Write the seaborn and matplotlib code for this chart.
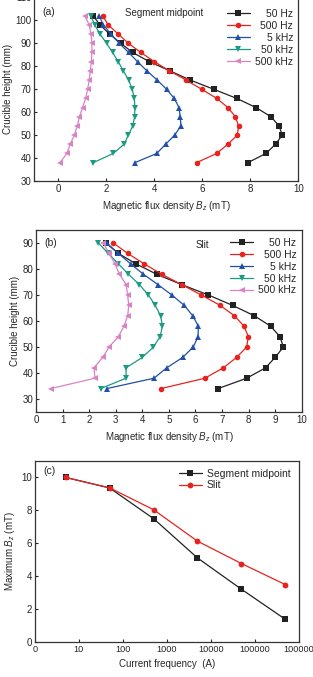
import numpy as np
import pandas as pd
import seaborn as sns
import matplotlib
matplotlib.use("Agg")
import matplotlib.pyplot as plt

# crucible heights (mm) sampled along the wall
heights_a = [38, 42, 46, 50, 54, 58, 62, 66, 70, 74, 78, 82, 86, 90, 94, 98, 102]
heights_b = [34, 38, 42, 46, 50, 54, 58, 62, 66, 70, 74, 78, 82, 86, 90]
freq_labels = ["50 Hz", "500 Hz", "5 kHz", "50 kHz", "500 kHz"]

# (a) segment midpoint, Bz in mT
a_50Hz = [7.9, 8.65, 9.05, 9.33, 9.2, 8.86, 8.24, 7.43, 6.47, 5.49, 4.65, 3.79, 3.1, 2.6, 2.14, 1.74, 1.45]
a_500Hz = [5.76, 6.6, 7.06, 7.46, 7.51, 7.38, 7.07, 6.6, 5.97, 5.32, 4.63, 4.0, 3.44, 2.92, 2.5, 2.08, 1.85]
a_5kHz = [3.19, 4.1, 4.47, 4.85, 5.11, 5.08, 5.03, 4.83, 4.51, 4.12, 3.69, 3.3, 2.93, 2.54, 2.2, 1.88, 1.7]
a_50kHz = [1.46, 2.29, 2.74, 2.92, 3.1, 3.18, 3.19, 3.17, 3.08, 2.93, 2.71, 2.5, 2.26, 2.01, 1.74, 1.52, 1.35]
a_500kHz = [0.07, 0.36, 0.49, 0.67, 0.79, 0.88, 1.01, 1.14, 1.22, 1.29, 1.33, 1.38, 1.4, 1.4, 1.36, 1.29, 1.1]

# (b) slit, Bz in mT
b_50Hz = [6.85, 7.93, 8.64, 9.0, 9.31, 9.18, 8.83, 8.22, 7.4, 6.49, 5.48, 4.54, 3.76, 3.1, 2.63]
b_500Hz = [4.7, 6.36, 7.05, 7.55, 7.93, 7.99, 7.83, 7.47, 6.93, 6.22, 5.48, 4.73, 4.07, 3.45, 2.91]
b_5kHz = [2.66, 4.44, 4.92, 5.52, 5.92, 6.1, 6.11, 5.9, 5.58, 5.11, 4.59, 4.04, 3.56, 3.1, 2.66]
b_50kHz = [2.43, 3.39, 3.39, 4.0, 4.42, 4.67, 4.76, 4.69, 4.49, 4.23, 3.89, 3.48, 3.1, 2.72, 2.35]
b_500kHz = [0.55, 2.22, 2.18, 2.51, 2.75, 3.1, 3.31, 3.45, 3.49, 3.45, 3.39, 3.14, 2.97, 2.75, 2.53]

# (c) maximum Bz vs current frequency
freqs = [5, 50, 500, 5000, 50000, 500000]
c_midpoint = [10.0, 9.36, 7.5, 5.11, 3.21, 1.38]
c_slit = [10.0, 9.37, 8.04, 6.13, 4.77, 3.49]
c_xticklabels = ["0", "10", "100", "1000", "10000", "100000", "100000"]

colors = {"50 Hz": "#222222", "500 Hz": "#e8231f", "5 kHz": "#2150a8",
          "50 kHz": "#1b9a82", "500 kHz": "#d883c4"}
markers = {"50 Hz": "s", "500 Hz": "o", "5 kHz": "^", "50 kHz": "v", "500 kHz": "<"}

sns.set_style("ticks")
plt.rcParams["font.family"] = ["Liberation Sans", "DejaVu Sans"]
plt.rcParams["mathtext.fontset"] = "custom"
plt.rcParams["mathtext.rm"] = "Liberation Sans"
plt.rcParams["mathtext.it"] = "Liberation Sans:italic"
plt.rcParams["font.size"] = 7
plt.rcParams["axes.edgecolor"] = "#333333"
plt.rcParams["axes.linewidth"] = 0.9
plt.rcParams["xtick.direction"] = "in"
plt.rcParams["ytick.direction"] = "in"
plt.rcParams["xtick.major.size"] = 2.5
plt.rcParams["ytick.major.size"] = 2.5
plt.rcParams["xtick.labelsize"] = 7
plt.rcParams["ytick.labelsize"] = 7
plt.rcParams["xtick.major.pad"] = 2.5
plt.rcParams["ytick.major.pad"] = 2


def long_df(heights, series):
    rows = []
    for lab, vals in zip(freq_labels, series):
        for h, v in zip(heights, vals):
            rows.append({"height": h, "Bz": v, "freq": lab})
    return pd.DataFrame(rows)


df_a = long_df(heights_a, [a_50Hz, a_500Hz, a_5kHz, a_50kHz, a_500kHz])
df_b = long_df(heights_b, [b_50Hz, b_500Hz, b_5kHz, b_50kHz, b_500kHz])
df_c = pd.DataFrame({
    "freq": freqs * 2,
    "Bmax": c_midpoint + c_slit,
    "pos": ["Segment midpoint"] * len(freqs) + ["Slit"] * len(freqs),
})

W, H = 313, 677
fig = plt.figure(figsize=(W / 100, H / 100), dpi=100)
ax_a = fig.add_axes([34.3 / W, (H - 181) / H, 264 / W, 183.6 / H])
ax_b = fig.add_axes([36 / W, (H - 412) / H, 265.7 / W, 182 / H])
ax_c = fig.add_axes([35 / W, (H - 642) / H, 263.5 / W, 181 / H])

for ax, df in [(ax_a, df_a), (ax_b, df_b)]:
    sns.lineplot(data=df, x="Bz", y="height", hue="freq", style="freq",
                 palette=colors, markers=markers, dashes=False, sort=False,
                 estimator=None, ax=ax, linewidth=0.9, markersize=4,
                 markeredgewidth=0)
    ax.set_ylabel("Crucible height (mm)", labelpad=2)
    ax.set_xlabel("Magnetic flux density $B_z$ (mT)", labelpad=3)

ax_a.set_xlim(-1, 10)
ax_a.set_ylim(30, 110)
ax_a.set_xticks([0, 2, 4, 6, 8, 10])
ax_a.set_yticks(np.arange(30, 111, 10))
ax_a.text(0.343, 0.915, "Segment midpoint", transform=ax_a.transAxes,
          fontsize=7, va="center")
ax_a.text(0.03, 0.92, "(a)", transform=ax_a.transAxes, fontsize=7.5, va="center")

ax_b.set_xlim(0, 10)
ax_b.set_ylim(25, 95)
ax_b.set_xticks(range(0, 11))
ax_b.set_yticks(np.arange(30, 91, 10))
ax_b.text(0.6, 0.915, "Slit", transform=ax_b.transAxes, fontsize=7, va="center")
ax_b.text(0.03, 0.93, "(b)", transform=ax_b.transAxes, fontsize=7.5, va="center")

sns.lineplot(data=df_c, x="freq", y="Bmax", hue="pos", style="pos",
             palette={"Segment midpoint": "#222222", "Slit": "#e8231f"},
             markers={"Segment midpoint": "s", "Slit": "o"}, dashes=False,
             ax=ax_c, linewidth=0.9, markersize=4.2, markeredgewidth=0)
ax_c.set_xscale("log")
ax_c.set_xlim(1, 1e6)
ax_c.set_ylim(0, 11)
ax_c.set_xticks([1, 10, 100, 1e3, 1e4, 1e5, 1e6])
ax_c.set_xticklabels(c_xticklabels, fontsize=6.6)
ax_c.minorticks_off()
ax_c.set_yticks([0, 2, 4, 6, 8, 10])
ax_c.set_xlabel("Current frequency  (A)", labelpad=3)
ax_c.set_ylabel("Maximum $B_z$ (mT)", labelpad=3)
ax_c.text(0.03, 0.945, "(c)", transform=ax_c.transAxes, fontsize=7.5, va="center")

leg_a = ax_a.legend(loc="upper right", bbox_to_anchor=(1.0, 0.965), frameon=False,
                    handlelength=2.2, handletextpad=0.5, labelspacing=0.18,
                    borderaxespad=0.1, fontsize=7.5)
leg_b = ax_b.legend(loc="upper right", bbox_to_anchor=(1.0, 0.985), frameon=False,
                    handlelength=2.2, handletextpad=0.5, labelspacing=0.18,
                    borderaxespad=0.1, fontsize=7.5)
leg_c = ax_c.legend(loc="upper right", bbox_to_anchor=(0.99, 0.985), frameon=False,
                    handlelength=2.2, handletextpad=0.5, labelspacing=0.15,
                    borderaxespad=0.1, fontsize=7.5)
for ax in [ax_a, ax_b, ax_c]:
    for side in ["top", "right", "left", "bottom"]:
        ax.spines[side].set_visible(True)

# right-align legend texts in (a) and (b)
fig.canvas.draw()
renderer = fig.canvas.get_renderer()
for leg in [leg_a, leg_b]:
    widths = [t.get_window_extent(renderer).width for t in leg.get_texts()]
    m = max(widths)
    for t, w in zip(leg.get_texts(), widths):
        t.set_position((m - w, 0))

fig.savefig("out.png", dpi=100)
